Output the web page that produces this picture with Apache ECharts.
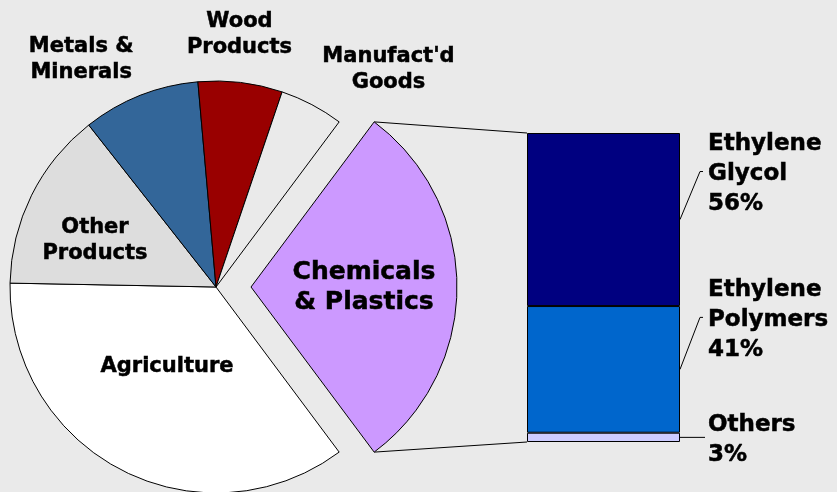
<!DOCTYPE html>
<html>
<head>
<meta charset="utf-8">
<script src="https://cdn.jsdelivr.net/npm/echarts@6/dist/echarts.min.js"></script>
<style>
  html, body { margin: 0; padding: 0; background: #eaeaea; }
  #chart { width: 837px; height: 492px; }
</style>
</head>
<body>
<div id="chart"></div>
<script>
// left pie: share of exports by sector (Chemicals first, exploded)
var sectors = ['Chemicals\n& Plastics', 'Agriculture', 'Other\nProducts', 'Metals &\nMinerals', 'Wood\nProducts', "Manufact'd\nGoods"];
var sectorShares = [29.6, 35.5, 14.1, 9.2, 6.6, 5.0];
var sectorColors = ['#cc99ff', '#ffffff', '#dddddd', '#336699', '#990000', '#eaeaea'];

// right bar: breakdown of the chemicals slice, top to bottom
var products = ['Ethylene\nGlycol', 'Ethylene\nPolymers', 'Others'];
var productShares = [56, 41, 3];
var productColors = ['#000080', '#0066cc', '#ccccff'];

// layout
var pieCenter = [216, 287];
var pieRadius = 206;
var explode = 35;
var font = '"DejaVu Sans", Verdana, sans-serif';
// label spots as [angle deg, fraction of radius] from the pie centre
var labelSpots = [null, [-121.5, 0.455], [158.8, 0.63], [120.7, 1.282], [84.7, 1.233], [51.6, 1.348]];
var leaderRise = [48, 52, 0];

var total = sectorShares.reduce(function (a, b) { return a + b; }, 0);
var halfChem = sectorShares[0] / total * 180;

var chart = echarts.init(document.getElementById('chart'));

var pieData = sectors.map(function (name, i) {
    var item = {
        name: name,
        value: sectorShares[i],
        itemStyle: { color: sectorColors[i] }
    };
    if (i === 0) {
        item.selected = true;
        item.label = { fontSize: 25, lineHeight: 30, padding: [0, 0, 4, 14] };
    }
    return item;
});

var barSeries = [];
for (var i = products.length - 1; i >= 0; i--) {
    barSeries.push({
        type: 'bar',
        name: products[i],
        stack: 'chem',
        barWidth: '100%',
        data: [productShares[i]],
        itemStyle: { color: productColors[i], borderColor: '#000', borderWidth: 1 },
        label: { show: false },
        emphasis: { disabled: true },
        silent: true
    });
}

var option = {
    backgroundColor: '#eaeaea',
    animation: false,
    grid: { left: 527, right: 157, top: 133, bottom: 50 },
    xAxis: { type: 'category', data: ['chem'], show: false },
    yAxis: { type: 'value', min: 0, max: 100, show: false },
    series: [
        {
            type: 'pie',
            center: pieCenter,
            radius: pieRadius,
            startAngle: halfChem,
            clockwise: true,
            selectedMode: 'single',
            selectedOffset: explode,
            emphasis: { disabled: true },
            silent: true,
            itemStyle: { borderColor: '#000', borderWidth: 1 },
            label: {
                show: true,
                position: 'inside',
                color: '#000',
                fontFamily: font,
                fontWeight: 'bold',
                fontSize: 21,
                lineHeight: 26,
                textBorderColor: '#000',
                textBorderWidth: 0.5
            },
            labelLine: { show: false },
            labelLayout: function (p) {
                var spot = labelSpots[p.dataIndex];
                if (!spot) return {};
                var a = spot[0] * Math.PI / 180;
                return {
                    x: pieCenter[0] + spot[1] * pieRadius * Math.cos(a),
                    y: pieCenter[1] - spot[1] * pieRadius * Math.sin(a),
                    align: 'center',
                    verticalAlign: 'middle'
                };
            },
            data: pieData
        }
    ].concat(barSeries).concat([
        {
            // leader lines and labels of the breakdown bar
            type: 'custom',
            silent: true,
            data: products.map(function (p, i) { return [0, i]; }),
            renderItem: function (params, api) {
                var i = api.value(1);
                var below = 0;
                for (var k = i + 1; k < productShares.length; k++) below += productShares[k];
                var pt = api.coord([0, below + productShares[i] / 2]);
                var bw = api.size([1, 0])[0];
                var xr = pt[0] + bw / 2;
                var rise = leaderRise[i];
                var pts = rise > 0
                    ? [[xr, pt[1]], [xr + 20, pt[1] - rise], [xr + 23, pt[1] - rise]]
                    : [[xr, pt[1]], [xr + 25, pt[1]]];
                return {
                    type: 'group',
                    children: [
                        { type: 'polyline', shape: { points: pts }, style: { stroke: '#000', lineWidth: 1, fill: null } },
                        {
                            type: 'text',
                            style: {
                                text: products[i] + '\n' + productShares[i] + '%',
                                x: xr + 28,
                                y: pt[1] - rise + 3,
                                align: 'left',
                                verticalAlign: 'middle',
                                fill: '#000',
                                stroke: '#000',
                                lineWidth: 0.5,
                                fontFamily: font,
                                fontWeight: 'bold',
                                fontSize: 23,
                                lineHeight: 30
                            }
                        }
                    ]
                };
            }
        },
        {
            // connectors from the exploded slice to the bar
            type: 'custom',
            silent: true,
            data: [[0, 0]],
            renderItem: function (params, api) {
                var bw = api.size([1, 0])[0];
                var top = api.coord([0, 100]);
                var bottom = api.coord([0, 0]);
                var xl = top[0] - bw / 2;
                var h = halfChem * Math.PI / 180;
                var cx = pieCenter[0] + explode;
                var vx = cx + pieRadius * Math.cos(h);
                var vy = pieRadius * Math.sin(h);
                return {
                    type: 'group',
                    children: [
                        { type: 'line', shape: { x1: vx, y1: pieCenter[1] - vy, x2: xl, y2: top[1] }, style: { stroke: '#000', lineWidth: 1 } },
                        { type: 'line', shape: { x1: vx, y1: pieCenter[1] + vy, x2: xl, y2: bottom[1] }, style: { stroke: '#000', lineWidth: 1 } }
                    ]
                };
            }
        }
    ])
};

chart.setOption(option);
</script>
</body>
</html>
